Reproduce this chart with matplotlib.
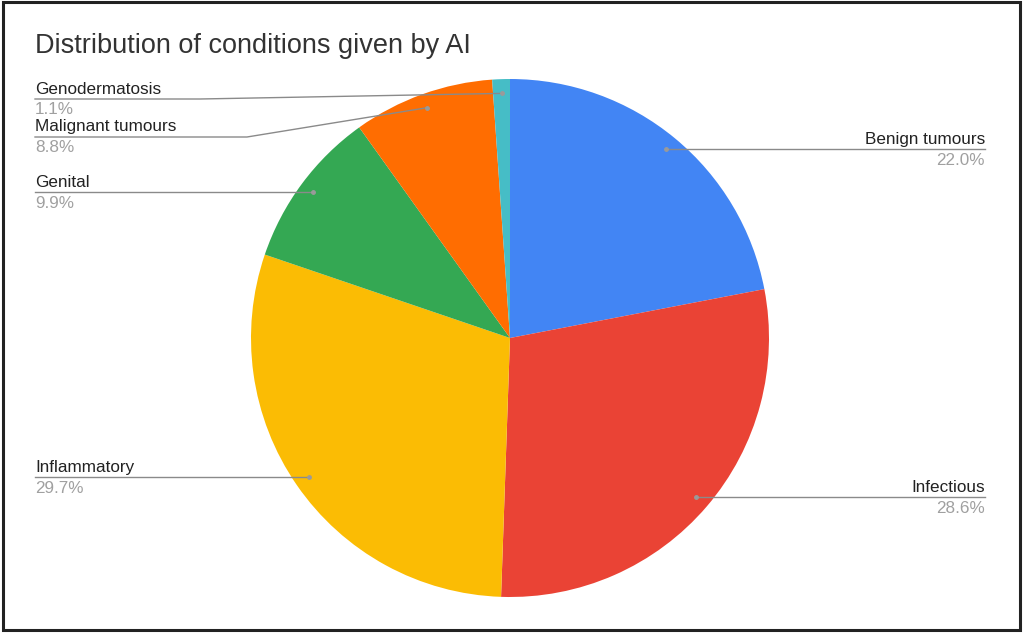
import numpy as np
import matplotlib.pyplot as plt

# data, clockwise from 12 o'clock
categories = ["Benign tumours", "Infectious", "Inflammatory", "Genital",
              "Malignant tumours", "Genodermatosis"]
shares = [22.0, 28.6, 29.7, 9.9, 8.8, 1.1]
colors = ["#4285F4", "#EA4335", "#FBBC04", "#34A853", "#FF6D01", "#46BDC6"]

W, H = 1024, 636
CX, CY, R = 510, H - 338, 259

# label layout: side, (line y from top, x where horizontal part ends) for bent leaders
label_layout = [
    ("right", None),
    ("right", None),
    ("left", None),
    ("left", None),
    ("left", (137, 247)),
    ("left", (99, 200)),
]

fig = plt.figure(figsize=(W / 100, H / 100), dpi=100)
ax = fig.add_axes([0, 0, 1, 1])

ax.pie(shares, colors=colors, startangle=90, counterclock=False,
       center=(CX, CY), radius=R, wedgeprops=dict(linewidth=0))
ax.set_xlim(0, W)
ax.set_ylim(0, H)
ax.set_aspect("equal")
ax.axis("off")

# outer frame
fig.patches.append(plt.Rectangle((3 / W, 6 / H), (W - 7) / W, (H - 8) / H,
                                  transform=fig.transFigure, fill=False,
                                  edgecolor="#222222", linewidth=2.2))

ax.text(35, H - 46, "Distribution of conditions given by AI", fontsize=19.5,
        color="#333333", va="center", ha="left", family="Liberation Sans")

total = sum(shares)
cum = 0.0
for name, val, (side, bend) in zip(categories, shares, label_layout):
    mid = (cum + val / 2) / total
    cum += val
    ang = np.deg2rad(90 - 360 * mid)
    dx = CX + 0.945 * R * np.cos(ang)
    dy = CY + 0.945 * R * np.sin(ang)
    if side == "right":
        xe, y = 985, dy
        ax.plot([dx, xe], [y, y], color="#8a8a8a", lw=1)
        ha = "right"
    else:
        xe = 35
        if bend is None:
            y = dy
            ax.plot([xe, dx], [y, y], color="#8a8a8a", lw=1)
        else:
            y = H - bend[0]
            ax.plot([xe, bend[1], dx], [y, y, dy], color="#8a8a8a", lw=1)
        ha = "left"
    ax.plot(dx, dy, "o", color="#9a9a9a", ms=2.5)
    ax.text(xe, y + 2.5, name, ha=ha, va="bottom", fontsize=12.3,
            color="#222222", family="Liberation Sans")
    ax.text(xe, y - 3.5, "%.1f%%" % val, ha=ha, va="top", fontsize=12.3,
            color="#a0a0a0", family="Liberation Sans")

fig.savefig("out.png", dpi=100, facecolor="white")
